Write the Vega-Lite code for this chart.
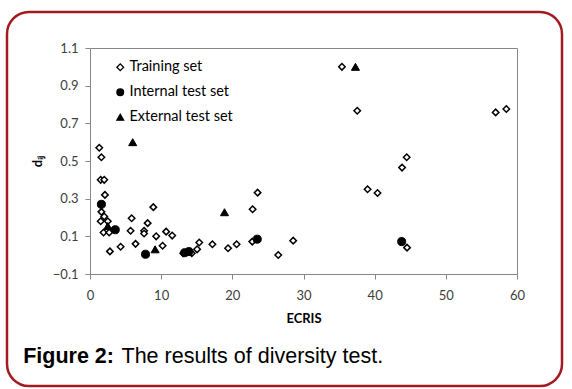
{
  "$schema": "https://vega.github.io/schema/vega-lite/v6.json",
  "width": 555,
  "height": 374,
  "autosize": {"type": "none"},
  "padding": {"left": 7, "top": 12, "right": 10, "bottom": 3},
  "background": "white",
  "config": {
    "view": {"stroke": "#a31a1f", "strokeWidth": 2.5, "cornerRadius": 22, "fill": "white"},
    "font": "Lato"
  },
  "data": {
    "values": [
      {"set": "Training set", "ecris": 1.3, "dij": 0.57},
      {"set": "Training set", "ecris": 1.6, "dij": 0.52},
      {"set": "Training set", "ecris": 1.5, "dij": 0.40},
      {"set": "Training set", "ecris": 2.0, "dij": 0.40},
      {"set": "Training set", "ecris": 2.1, "dij": 0.32},
      {"set": "Training set", "ecris": 1.6, "dij": 0.23},
      {"set": "Training set", "ecris": 2.0, "dij": 0.205},
      {"set": "Training set", "ecris": 1.5, "dij": 0.18},
      {"set": "Training set", "ecris": 2.5, "dij": 0.18},
      {"set": "Training set", "ecris": 1.9, "dij": 0.12},
      {"set": "Training set", "ecris": 2.7, "dij": 0.12},
      {"set": "Training set", "ecris": 5.85, "dij": 0.196},
      {"set": "Training set", "ecris": 5.7, "dij": 0.13},
      {"set": "Training set", "ecris": 8.9, "dij": 0.255},
      {"set": "Training set", "ecris": 8.1, "dij": 0.17},
      {"set": "Training set", "ecris": 7.6, "dij": 0.13},
      {"set": "Training set", "ecris": 7.6, "dij": 0.115},
      {"set": "Training set", "ecris": 9.3, "dij": 0.10},
      {"set": "Training set", "ecris": 10.7, "dij": 0.125},
      {"set": "Training set", "ecris": 11.55, "dij": 0.104},
      {"set": "Training set", "ecris": 2.8, "dij": 0.02},
      {"set": "Training set", "ecris": 4.3, "dij": 0.045},
      {"set": "Training set", "ecris": 6.4, "dij": 0.06},
      {"set": "Training set", "ecris": 10.2, "dij": 0.05},
      {"set": "Training set", "ecris": 13.1, "dij": 0.01},
      {"set": "Training set", "ecris": 14.3, "dij": 0.01},
      {"set": "Training set", "ecris": 15.05, "dij": 0.031},
      {"set": "Training set", "ecris": 15.35, "dij": 0.067},
      {"set": "Training set", "ecris": 17.2, "dij": 0.058},
      {"set": "Training set", "ecris": 19.4, "dij": 0.037},
      {"set": "Training set", "ecris": 20.6, "dij": 0.058},
      {"set": "Training set", "ecris": 22.8, "dij": 0.072},
      {"set": "Training set", "ecris": 22.85, "dij": 0.244},
      {"set": "Training set", "ecris": 23.55, "dij": 0.332},
      {"set": "Training set", "ecris": 26.45, "dij": 0.001},
      {"set": "Training set", "ecris": 28.55, "dij": 0.077},
      {"set": "Training set", "ecris": 35.4, "dij": 1.0},
      {"set": "Training set", "ecris": 37.55, "dij": 0.767},
      {"set": "Training set", "ecris": 39.0, "dij": 0.35},
      {"set": "Training set", "ecris": 40.4, "dij": 0.33},
      {"set": "Training set", "ecris": 43.85, "dij": 0.465},
      {"set": "Training set", "ecris": 44.5, "dij": 0.52},
      {"set": "Training set", "ecris": 44.55, "dij": 0.04},
      {"set": "Training set", "ecris": 57.0, "dij": 0.758},
      {"set": "Training set", "ecris": 58.5, "dij": 0.776},
      {"set": "Internal test set", "ecris": 1.6, "dij": 0.27},
      {"set": "Internal test set", "ecris": 3.55, "dij": 0.135},
      {"set": "Internal test set", "ecris": 7.8, "dij": 0.005},
      {"set": "Internal test set", "ecris": 13.3, "dij": 0.013},
      {"set": "Internal test set", "ecris": 13.9, "dij": 0.019},
      {"set": "Internal test set", "ecris": 23.5, "dij": 0.085},
      {"set": "Internal test set", "ecris": 43.8, "dij": 0.072},
      {"set": "External test set", "ecris": 6.0, "dij": 0.60},
      {"set": "External test set", "ecris": 37.3, "dij": 1.0},
      {"set": "External test set", "ecris": 18.9, "dij": 0.228},
      {"set": "External test set", "ecris": 9.15, "dij": 0.031},
      {"set": "External test set", "ecris": 2.5, "dij": 0.155}
    ]
  },
  "layer": [
    {
      "transform": [{"filter": "datum.set === 'Training set'"}],
      "mark": {"type": "point", "filled": true, "strokeWidth": 1.5, "size": 42, "opacity": 1},
      "encoding": {
        "x": {
          "field": "ecris", "type": "quantitative",
          "scale": {"domain": [0, 60], "range": [83, 510], "nice": false, "zero": false},
          "axis": {
            "orient": "bottom", "offset": -112, "values": [0, 10, 20, 30, 40, 50, 60],
            "title": "ECRIS", "titleFont": "Lato", "titleFontWeight": "bold", "titleFontSize": 13, "titleColor": "black", "titlePadding": 10,
            "labelFont": "Lato", "labelFontSize": 13, "labelColor": "#404040", "labelPadding": 10, "labelFlush": false,
            "domainColor": "#868686", "tickColor": "#868686", "tickSize": 5, "grid": false
          }
        },
        "y": {
          "field": "dij", "type": "quantitative",
          "scale": {"domain": [-0.1, 1.1], "range": [262, 36], "nice": false, "zero": false},
          "axis": {
            "orient": "left", "offset": -83, "values": [-0.1, 0.1, 0.3, 0.5, 0.7, 0.9, 1.1], "format": ".1f",
            "title": "dᵢⱼ", "titleFontWeight": "bold", "titleFontSize": 13, "titleColor": "black", "titlePadding": 8,
            "labelFont": "Lato", "labelFontSize": 13, "labelColor": "#404040", "labelPadding": 7,
            "domainColor": "#868686", "tickColor": "#868686", "tickSize": 5, "grid": false
          }
        },
        "shape": {
          "field": "set", "type": "nominal",
          "scale": {"domain": ["Training set", "Internal test set", "External test set"], "range": ["diamond", "circle", "triangle-up"]},
          "legend": {"orient": "none", "legendX": 106, "legendY": 48, "title": null, "labelFont": "Lato", "labelFontSize": 14.5, "labelColor": "black", "symbolSize": 45, "symbolStrokeWidth": 1.3, "rowPadding": 10, "labelOffset": 2}
        },
        "fill": {
          "field": "set", "type": "nominal",
          "scale": {"domain": ["Training set", "Internal test set", "External test set"], "range": ["white", "black", "black"]},
          "legend": {"orient": "none", "legendX": 106, "legendY": 48, "title": null, "labelFont": "Lato", "labelFontSize": 14.5, "labelColor": "black", "symbolSize": 45, "symbolStrokeWidth": 1.3, "rowPadding": 10, "labelOffset": 2}
        },
        "stroke": {
          "field": "set", "type": "nominal",
          "scale": {"domain": ["Training set", "Internal test set", "External test set"], "range": ["black", "black", "black"]},
          "legend": {"orient": "none", "legendX": 106, "legendY": 48, "title": null, "labelFont": "Lato", "labelFontSize": 14.5, "labelColor": "black", "symbolSize": 45, "symbolStrokeWidth": 1.3, "rowPadding": 10, "labelOffset": 2}
        }
      }
    },
    {
      "transform": [{"filter": "datum.set !== 'Training set'"}],
      "mark": {"type": "point", "filled": true, "strokeWidth": 1, "size": 65, "opacity": 1},
      "encoding": {
        "x": {
          "field": "ecris", "type": "quantitative",
          "axis": {
            "orient": "top", "offset": -36, "domain": true, "domainColor": "#868686", "ticks": false, "labels": false, "grid": false,
            "title": "The results of diversity test.", "titleX": 114, "titleY": 314, "titleAngle": 0, "titleAlign": "left", "titleBaseline": "alphabetic",
            "titleFont": "Liberation Sans", "titleFontSize": 21.5, "titleFontWeight": "normal", "titleColor": "black"
          }
        },
        "y": {
          "field": "dij", "type": "quantitative",
          "axis": {
            "orient": "right", "offset": -45, "domain": true, "domainColor": "#868686", "ticks": false, "labels": false, "grid": false,
            "title": "Figure 2:", "titleX": -494.3, "titleY": 350, "titleAngle": 0, "titleAlign": "left", "titleBaseline": "alphabetic",
            "titleFont": "Liberation Sans", "titleFontSize": 21.5, "titleFontWeight": "bold", "titleColor": "black"
          }
        },
        "shape": {"field": "set", "type": "nominal"},
        "fill": {"field": "set", "type": "nominal"},
        "stroke": {"field": "set", "type": "nominal"}
      }
    }
  ],
  "resolve": {"axis": {"x": "independent", "y": "independent"}}
}
